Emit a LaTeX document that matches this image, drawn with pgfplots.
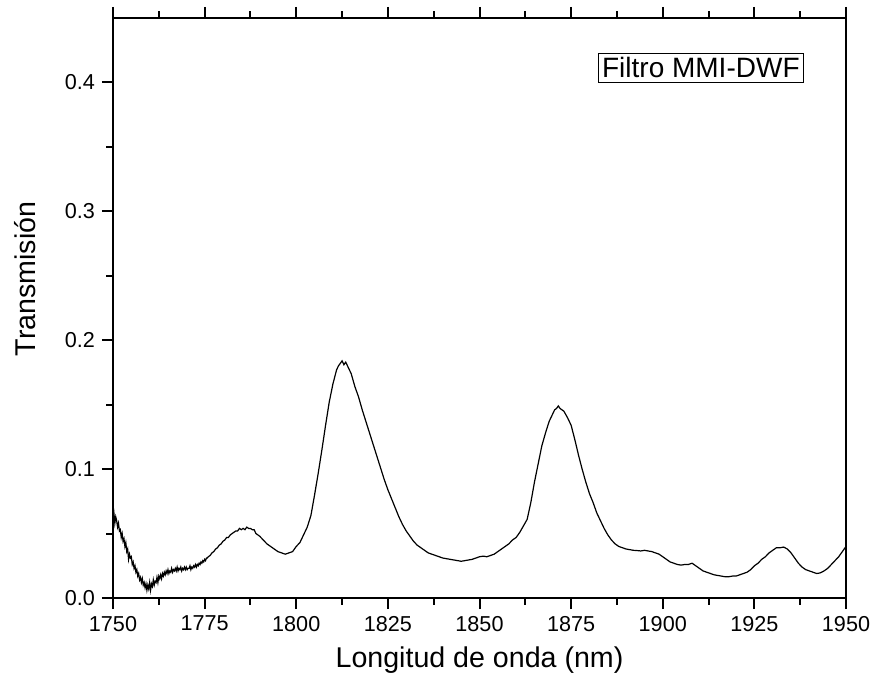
\documentclass[border=0pt]{standalone}
\usepackage{pgfplots}
\pgfplotsset{compat=1.18}
\usepackage{fontspec}
\setmainfont{Liberation Sans}
\begin{document}
\begin{tikzpicture}
\begin{axis}[
  scale only axis,
  width=366.5pt, height=290pt,
  xmin=1750, xmax=1950, ymin=0, ymax=0.45,
  xtick={1750,1775,...,1950},
  ytick={0,0.1,0.2,0.3,0.4},
  minor x tick num=1, minor y tick num=1,
  tick align=outside,
  xtick pos=both, ytick pos=left,
  major tick length=5.5pt, minor tick length=3.3pt,
  axis line style={line width=1pt},
  every tick/.style={line width=1pt, black},
  /pgf/number format/assume math mode=true,
  xticklabel style={font=\fontsize{10.8}{12}\selectfont, /pgf/number format/set thousands separator={}},
  yticklabel style={font=\fontsize{10.8}{12}\selectfont, /pgf/number format/.cd, fixed, fixed zerofill, precision=1},
  xlabel={Longitud de onda (nm)},
  ylabel={Transmisión},
  label style={font=\fontsize{14.3}{16}\selectfont},
  xlabel style={yshift=-1pt},
  ylabel style={at={(rel axis cs:-0.096,0.55)}, anchor=south},
  clip=false,
]
\addplot[black, line width=0.6pt] coordinates {
(1750.00,0.062)(1750.25,0.066)(1750.50,0.058)(1750.75,0.063)(1751.00,0.060)(1751.25,0.055)
(1751.50,0.058)(1751.75,0.052)(1752.00,0.053)(1752.25,0.047)(1752.50,0.050)(1752.75,0.044)
(1753.00,0.046)(1753.25,0.040)(1753.50,0.043)(1753.75,0.036)(1754.00,0.038)(1754.25,0.030)
(1754.50,0.034)(1754.75,0.031)(1755.00,0.032)(1755.25,0.026)(1755.50,0.028)(1755.75,0.023)
(1756.00,0.025)(1756.25,0.020)(1756.50,0.022)(1756.75,0.017)(1757.00,0.019)(1757.25,0.014)
(1757.50,0.016)(1757.75,0.012)(1758.00,0.015)(1758.25,0.010)(1758.50,0.012)(1758.75,0.008)
(1759.00,0.011)(1759.25,0.006)(1759.50,0.010)(1759.75,0.007)(1760.00,0.012)(1760.25,0.006)
(1760.50,0.011)(1760.75,0.009)(1761.00,0.014)(1761.25,0.010)(1761.50,0.013)(1761.75,0.012)
(1762.00,0.016)(1762.25,0.012)(1762.50,0.017)(1762.75,0.015)(1763.00,0.018)(1763.25,0.015)
(1763.50,0.019)(1763.75,0.017)(1764.00,0.020)(1764.25,0.018)(1764.50,0.021)(1764.75,0.019)
(1765.00,0.022)(1765.25,0.019)(1765.50,0.021)(1765.75,0.020)(1766.00,0.023)(1766.25,0.020)
(1766.50,0.022)(1766.75,0.021)(1767.00,0.023)(1767.25,0.021)(1767.50,0.024)(1767.75,0.021)
(1768.00,0.023)(1768.25,0.022)(1768.50,0.024)(1768.75,0.021)(1769.00,0.023)(1769.25,0.022)
(1769.50,0.024)(1769.75,0.022)(1770.00,0.024)(1770.25,0.022)(1770.50,0.023)(1770.75,0.023)
(1771.00,0.025)(1771.25,0.022)(1771.50,0.024)(1771.75,0.023)(1772.00,0.025)(1772.25,0.024)
(1772.50,0.026)(1772.75,0.024)(1773.00,0.026)(1773.25,0.025)(1773.50,0.027)(1773.75,0.026)
(1774.00,0.028)(1774.25,0.027)(1774.50,0.029)(1774.75,0.028)(1775.00,0.030)(1775.25,0.029)
(1775.50,0.031)(1775.75,0.031)(1776.00,0.032)(1776.50,0.033)(1777.00,0.035)(1777.50,0.036)
(1778.00,0.038)(1778.50,0.039)(1779.00,0.041)(1779.50,0.042)(1780.00,0.044)
(1780.5,0.045)(1781.0,0.047)(1781.5,0.047)(1782.0,0.049)(1782.5,0.050)
(1783.0,0.051)(1783.5,0.052)(1784.0,0.052)(1784.5,0.054)(1785.0,0.053)(1785.5,0.054)
(1786.0,0.053)(1786.5,0.055)(1787.0,0.054)(1787.5,0.054)(1788.0,0.053)(1788.5,0.053)
(1789,0.050)(1790,0.048)(1791,0.045)(1792,0.042)(1793,0.040)(1794,0.038)(1795,0.036)
(1796,0.035)(1797,0.034)(1798,0.035)(1799,0.036)(1800,0.040)(1801,0.043)(1802,0.049)
(1803,0.055)(1804,0.064)(1805,0.080)(1806,0.097)(1807,0.115)(1808,0.134)(1809,0.152)
(1810,0.166)(1811,0.177)(1811.5,0.180)(1812,0.182)(1812.5,0.184)(1813,0.181)(1813.5,0.183)
(1814,0.180)(1815,0.174)(1816,0.164)(1817,0.156)(1818,0.146)(1819,0.137)(1820,0.128)
(1821,0.119)(1822,0.110)(1823,0.101)(1824,0.092)(1825,0.084)(1826,0.077)(1827,0.070)
(1828,0.063)(1829,0.057)(1830,0.052)(1831,0.048)(1832,0.044)(1833,0.041)(1834,0.039)
(1835,0.037)(1836,0.035)(1837,0.034)(1838,0.033)(1839,0.032)(1840,0.031)(1841,0.0305)
(1842,0.030)(1843,0.0295)(1844,0.029)(1845,0.0285)(1846,0.029)(1847,0.0295)(1848,0.030)
(1849,0.031)(1850,0.032)(1851,0.0325)(1852,0.032)(1853,0.033)(1854,0.034)(1855,0.036)
(1856,0.038)(1857,0.040)(1858,0.042)(1859,0.045)(1860,0.047)(1861,0.051)(1862,0.056)
(1863,0.061)(1864,0.074)(1865,0.090)(1866,0.104)(1867,0.118)(1868,0.128)(1869,0.137)
(1870,0.143)(1870.5,0.146)(1871,0.147)(1871.5,0.149)(1872,0.147)(1872.5,0.146)(1873,0.145)
(1874,0.140)(1875,0.134)(1876,0.123)(1877,0.111)(1878,0.100)(1879,0.090)(1880,0.081)
(1881,0.074)(1882,0.066)(1883,0.060)(1884,0.054)(1885,0.049)(1886,0.045)(1887,0.042)
(1888,0.040)(1889,0.039)(1890,0.038)(1891,0.0375)(1892,0.037)(1893,0.0368)(1894,0.0365)
(1895,0.037)(1896,0.0365)(1897,0.036)(1898,0.035)(1899,0.034)(1900,0.032)(1901,0.030)
(1902,0.028)(1903,0.027)(1904,0.026)(1905,0.0255)(1906,0.026)(1907,0.026)(1908,0.027)
(1909,0.025)(1910,0.023)(1911,0.021)(1912,0.020)(1913,0.019)(1914,0.018)(1915,0.0175)
(1916,0.017)(1917,0.0165)(1918,0.0165)(1919,0.017)(1920,0.017)(1921,0.018)(1922,0.019)
(1923,0.020)(1924,0.022)(1925,0.025)(1926,0.027)(1927,0.030)(1928,0.032)(1929,0.035)
(1930,0.037)(1931,0.039)(1932,0.039)(1933,0.0395)(1934,0.038)(1935,0.035)(1936,0.031)
(1937,0.027)(1938,0.024)(1939,0.022)(1940,0.021)(1941,0.020)(1942,0.019)(1943,0.0195)
(1944,0.021)(1945,0.023)(1946,0.026)(1947,0.029)(1948,0.032)(1949,0.036)(1950,0.040)
};
\node[draw=black, line width=0.4pt, inner sep=2pt, font=\fontsize{14}{16}\selectfont] at (axis cs:1910.4,0.4113) {Filtro MMI-DWF};
\coordinate (bl) at (rel axis cs:-0.15416,-0.15517);
\coordinate (tr) at (rel axis cs:1.03820,1.03103);
\end{axis}
\pgfresetboundingbox
\path[use as bounding box] (bl) rectangle (tr);
\end{tikzpicture}
\end{document}
